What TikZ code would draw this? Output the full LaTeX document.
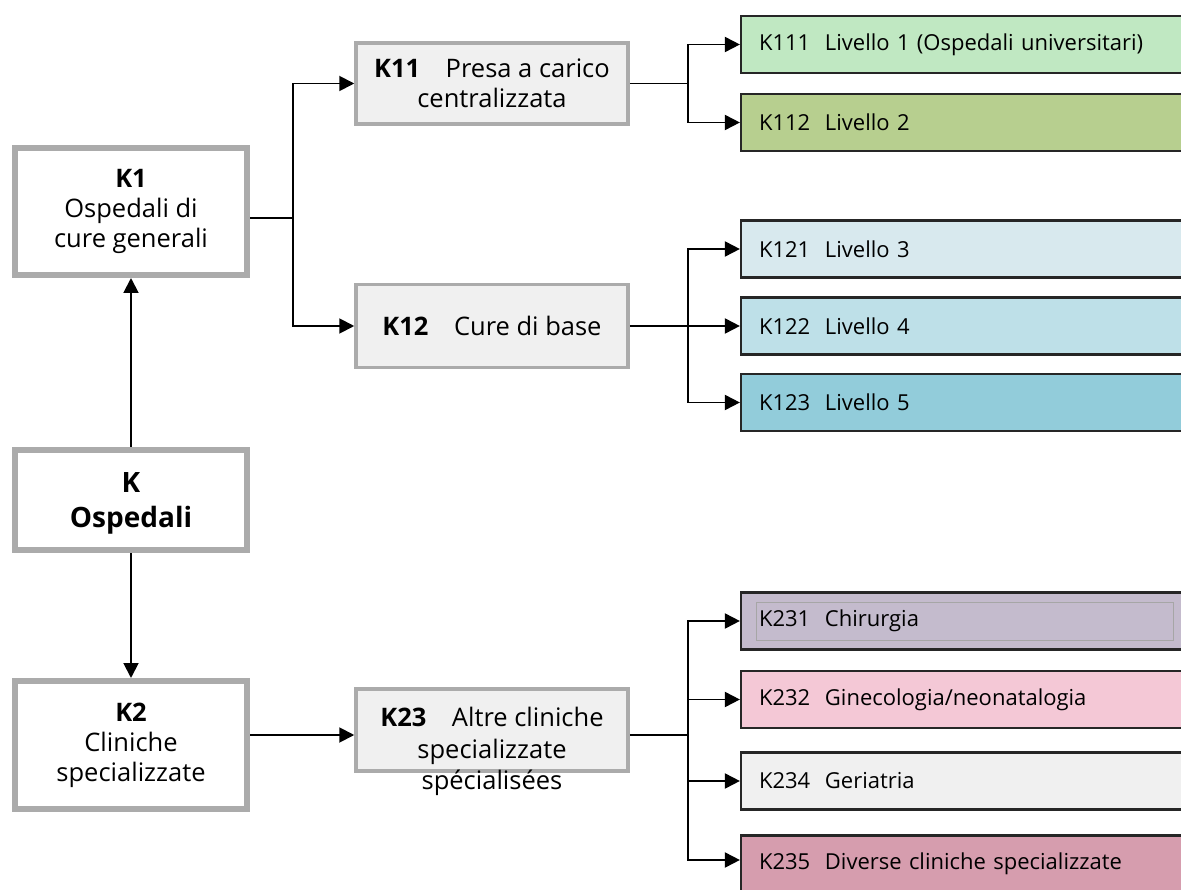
\documentclass[tikz,border=0pt]{standalone}
\usepackage{fontspec}
\setmainfont{Open Sans}
\usetikzlibrary{arrows.meta}

\definecolor{rimgray}{HTML}{ABABAB}
\definecolor{midfill}{HTML}{F0F0F0}
\definecolor{lvone}{HTML}{C0E8C2}
\definecolor{lvtwo}{HTML}{B7CF8F}
\definecolor{lvthree}{HTML}{D8E9EE}
\definecolor{lvfour}{HTML}{BEE0E8}
\definecolor{lvfive}{HTML}{92CCDA}
\definecolor{chir}{HTML}{C4BBCD}
\definecolor{gine}{HTML}{F4C8D6}
\definecolor{geri}{HTML}{F0F0F0}
\definecolor{diver}{HTML}{D69DAE}

\begin{document}
\begin{tikzpicture}[x=1pt,y=-1pt,
	font=\fontsize{25.5}{30}\selectfont,
	topbox/.style={draw=rimgray, line width=6pt, fill=white, minimum width=232pt, align=center, inner sep=0pt},
	midbox/.style={draw=rimgray, line width=3.5pt, fill=midfill, minimum width=272pt, align=center, inner sep=0pt},
	leafbox/.style={draw=black!85, line width=2.2pt, minimum width=449pt, minimum height=57pt, text width=413pt, align=left, inner xsep=18pt, inner ysep=0pt, font=\fontsize{22}{26}\selectfont},
	link/.style={line width=1.9pt},
	arr/.style={link, -{Triangle[length=15pt,width=15pt]}}]
	\useasboundingbox (0,0) rectangle (1181,890);
	\clip (0,0) rectangle (1181,890);

	% first column
	\node[topbox, minimum height=127pt] (K1) at (131,211.5) {\textbf{K1}\\Ospedali di\\cure generali};
	\node[topbox, minimum height=100pt, font=\fontsize{28}{35}\selectfont\bfseries] (K) at (131,500) {\rule{0pt}{26pt}K\\Ospedali};
	\node[topbox, minimum height=128pt] (K2) at (131,745) {\textbf{K2}\\Cliniche\\specializzate};

	% second column
	\node[midbox, minimum height=81pt] (K11) at (492,83.5) {\textbf{K11}\quad Presa a carico\\centralizzata};
	\node[midbox, minimum height=83pt] (K12) at (492,326) {\textbf{K12}\quad Cure di base};
	\node[midbox, minimum height=82pt] (K23) at (492,730) {};
	\node[anchor=north, align=center, inner sep=0pt, font=\fontsize{25.5}{31.5}\selectfont] (K23t) at ([yshift=-20pt]K23.north) {\textbf{K23}\quad Altre cliniche\\specializzate\\spécialisées};

	% third column
	\node[leafbox, fill=lvone] (K111) at (965.5,44.5) {K111\ \ Livello 1 (Ospedali universitari)};
	\node[leafbox, fill=lvtwo] (K112) at (965.5,122.5) {K112\ \ Livello 2};
	\node[leafbox, fill=lvthree] (K121) at (965.5,249) {K121\ \ Livello 3};
	\node[leafbox, fill=lvfour] (K122) at (965.5,326) {K122\ \ Livello 4};
	\node[leafbox, fill=lvfive] (K123) at (965.5,402.5) {K123\ \ Livello 5};
	\node[leafbox, fill=chir] (K231) at (965.5,621) {K231\ \ Chirurgia};
	\node[leafbox, fill=gine] (K232) at (965.5,699.5) {K232\ \ Ginecologia/neonatalogia};
	\node[leafbox, fill=geri] (K234) at (965.5,781) {K234\ \ Geriatria};
	\node[leafbox, fill=diver] (K235) at (965.5,864) {K235\ \ Diverse cliniche specializzate};
	\draw[black!35, line width=.6pt] (756,602) rectangle (1173,640);

	% branch points
	\coordinate (b1) at (293,218);
	\coordinate (b11) at (688,83.5);
	\coordinate (b12) at (688,326);
	\coordinate (b23) at (688,735);

	\draw[arr] (K.north) -- (K1.south);
	\draw[arr] (K.south) -- (K2.north);
	\draw[link] ([yshift=-6.5pt]K1.east) -- (b1);
	\draw[arr] (b1) |- (K11.west);
	\draw[arr] (b1) |- (K12.west);
	\draw[arr] ([yshift=10pt]K2.east) -- ([yshift=-5pt]K23.west);

	\draw[link] (K11.east) -- (b11);
	\draw[arr] (b11) |- (K111.west);
	\draw[arr] (b11) |- (K112.west);
	\draw[link] (K12.east) -- (b12);
	\draw[arr] (b12) |- (K121.west);
	\draw[arr] (b12) -- (K122.west);
	\draw[arr] (b12) |- (K123.west);
	\draw[link] ([yshift=-5pt]K23.east) -- (b23);
	\draw[arr] (b23) |- (K231.west);
	\draw[arr] (b23) |- (K232.west);
	\draw[arr] (b23) |- (K234.west);
	\draw[arr] (b23) |- ([yshift=4pt]K235.west);
\end{tikzpicture}
\end{document}
